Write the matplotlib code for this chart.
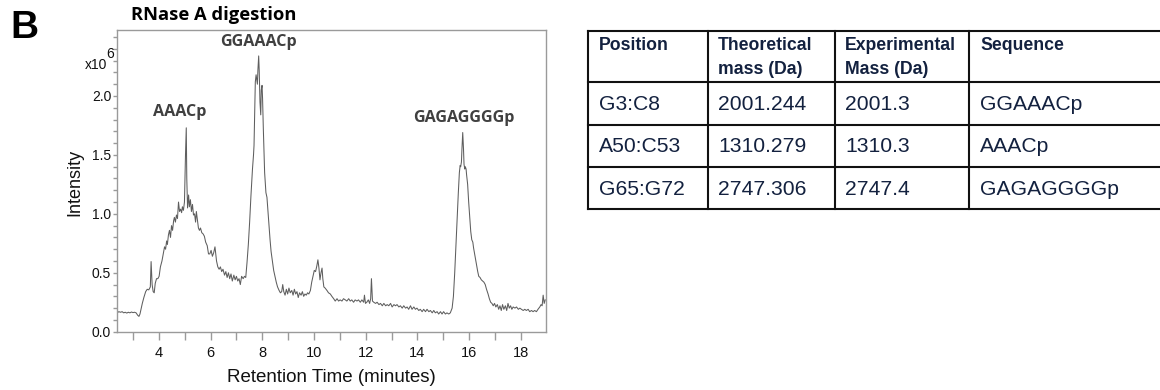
import matplotlib
matplotlib.use("Agg")
import matplotlib.pyplot as plt
from matplotlib.lines import Line2D
from matplotlib.ticker import MultipleLocator

# ---------------- data ----------------
time_min = [
    2.39, 2.45, 2.52, 2.58, 2.64, 2.70, 2.76, 2.82, 2.88, 2.94, 3.00, 3.06, 3.12, 3.18, 3.23, 3.27,
    3.36, 3.42, 3.49, 3.55, 3.61, 3.67, 3.70, 3.74, 3.78, 3.82, 3.86, 3.91, 3.96, 4.01, 4.06, 4.12,
    4.17, 4.22, 4.26, 4.30, 4.33, 4.37, 4.41, 4.45, 4.49, 4.53, 4.57, 4.60, 4.64, 4.68, 4.72, 4.76,
    4.80, 4.84, 4.88, 4.91, 4.95, 4.99, 5.03, 5.06, 5.08, 5.11, 5.15, 5.18, 5.22, 5.26, 5.30, 5.34,
    5.38, 5.42, 5.45, 5.49, 5.53, 5.57, 5.61, 5.66, 5.71, 5.76, 5.81, 5.87, 5.92, 5.97, 6.02, 6.07,
    6.12, 6.17, 6.23, 6.28, 6.33, 6.38, 6.43, 6.48, 6.54, 6.59, 6.64, 6.69, 6.74, 6.79, 6.84, 6.90,
    6.95, 7.00, 7.05, 7.10, 7.15, 7.20, 7.26, 7.31, 7.36,
    7.41, 7.46, 7.51, 7.56, 7.62, 7.66, 7.68, 7.71, 7.73, 7.76, 7.78, 7.81, 7.83, 7.86, 7.88, 7.91,
    7.94, 7.96, 7.99, 8.01, 8.04, 8.07, 8.09, 8.12, 8.14, 8.18, 8.22, 8.26, 8.30, 8.34, 8.39, 8.44,
    8.49, 8.54, 8.59, 8.65, 8.70, 8.75, 8.79, 8.83, 8.88, 8.93, 8.98, 9.03, 9.08, 9.14, 9.19, 9.24,
    9.29, 9.34, 9.39, 9.44, 9.50, 9.55, 9.60, 9.65, 9.70, 9.75, 9.80, 9.86, 9.91, 9.96, 10.01, 10.06,
    10.11, 10.15, 10.19, 10.23, 10.27, 10.31, 10.34, 10.38, 10.43, 10.50, 10.56, 10.63, 10.69, 10.76,
    10.82, 10.89, 10.95, 11.01, 11.08, 11.14, 11.21, 11.27, 11.34, 11.40, 11.46, 11.53, 11.59, 11.66,
    11.72, 11.79, 11.85, 11.92, 11.95, 11.99, 12.04, 12.10, 12.15, 12.19, 12.22, 12.26, 12.31, 12.38,
    12.44, 12.51, 12.57, 12.64, 12.70, 12.77, 12.83, 12.89, 12.96, 13.02, 13.09, 13.15, 13.21, 13.28,
    13.34, 13.41, 13.47, 13.54, 13.60, 13.66, 13.73, 13.79, 13.86, 13.92, 13.98, 14.05, 14.11, 14.18,
    14.24, 14.31, 14.37, 14.44, 14.50, 14.57, 14.63, 14.69, 14.76, 14.82, 14.89, 14.95, 15.01, 15.08,
    15.14, 15.21, 15.27,
    15.34, 15.39, 15.44, 15.49, 15.54, 15.58, 15.62, 15.65, 15.67, 15.70, 15.72, 15.75, 15.78, 15.80,
    15.83, 15.85, 15.88, 15.90, 15.94, 15.98, 16.02, 16.06, 16.10, 16.14, 16.17, 16.21, 16.25, 16.29,
    16.33, 16.37, 16.42, 16.47, 16.52, 16.57, 16.62, 16.67, 16.73, 16.78, 16.83, 16.88, 16.93, 16.98,
    17.03, 17.09, 17.14, 17.19, 17.24, 17.29, 17.34, 17.40, 17.45, 17.50, 17.55, 17.60, 17.65, 17.70,
    17.77, 17.83, 17.90, 17.96, 18.02, 18.09, 18.15, 18.21, 18.28, 18.34, 18.41, 18.47, 18.53, 18.60,
    18.66, 18.73, 18.78, 18.82, 18.86, 18.90, 18.94,
]
intensity_e6 = [
    0.16, 0.17, 0.165, 0.17, 0.16, 0.165, 0.158, 0.165, 0.16, 0.167, 0.162, 0.165, 0.16, 0.14, 0.13, 0.15,
    0.24, 0.29, 0.34, 0.36, 0.355, 0.38, 0.595, 0.40, 0.34, 0.33, 0.41, 0.45, 0.45, 0.47, 0.55, 0.60,
    0.66, 0.72, 0.70, 0.77, 0.74, 0.82, 0.86, 0.80, 0.90, 0.86, 0.94, 0.97, 0.93, 0.99, 0.96, 1.10,
    1.02, 1.04, 1.01, 1.06, 1.03, 1.10, 1.50, 1.73, 1.30, 1.05, 1.16, 1.06, 1.12, 1.02, 1.08, 0.99,
    1.00, 0.93, 1.02, 0.95, 0.88, 0.86, 0.88, 0.84, 0.83, 0.81, 0.76, 0.73, 0.66, 0.66, 0.69, 0.64,
    0.67, 0.72, 0.60, 0.55, 0.53, 0.55, 0.51, 0.53, 0.48, 0.51, 0.46, 0.50, 0.45, 0.49, 0.43, 0.48,
    0.44, 0.47, 0.43, 0.45, 0.40, 0.47, 0.45, 0.47, 0.46,
    0.59, 0.74, 0.93, 1.15, 1.38, 1.50, 1.58, 1.90, 2.12, 2.18, 2.15, 2.10, 2.22, 2.34, 2.22, 1.95,
    1.84, 2.05, 2.09, 1.98, 1.72, 1.50, 1.35, 1.24, 1.18, 1.14, 1.02, 0.90, 0.78, 0.68, 0.60, 0.52,
    0.47, 0.42, 0.38, 0.35, 0.33, 0.34, 0.40, 0.34, 0.31, 0.36, 0.32, 0.37, 0.33, 0.35, 0.31, 0.36,
    0.32, 0.34, 0.29, 0.33, 0.31, 0.34, 0.30, 0.32, 0.31, 0.33, 0.32, 0.35, 0.42, 0.47, 0.52, 0.51,
    0.56, 0.61, 0.54, 0.44, 0.50, 0.54, 0.45, 0.38, 0.37, 0.35, 0.33, 0.32, 0.30, 0.28,
    0.26, 0.28, 0.26, 0.27, 0.26, 0.28, 0.27, 0.26, 0.28, 0.26, 0.27, 0.25, 0.27, 0.26,
    0.27, 0.25, 0.27, 0.25, 0.31, 0.24, 0.25, 0.27, 0.24, 0.28, 0.45, 0.26, 0.25, 0.24,
    0.25, 0.23, 0.24, 0.22, 0.24, 0.22, 0.23, 0.22, 0.24, 0.21, 0.23, 0.22, 0.23, 0.21,
    0.22, 0.20, 0.22, 0.20, 0.21, 0.19, 0.22, 0.19, 0.21, 0.19, 0.20, 0.18, 0.19, 0.17,
    0.19, 0.17, 0.19, 0.17, 0.18, 0.16, 0.18, 0.16, 0.17, 0.15, 0.17, 0.15, 0.17, 0.15,
    0.16, 0.15, 0.16,
    0.20, 0.30, 0.50, 0.75, 0.98, 1.18, 1.35, 1.41, 1.40, 1.44, 1.55, 1.69, 1.55, 1.42,
    1.38, 1.40, 1.38, 1.33, 1.25, 1.10, 0.98, 0.85, 0.78, 0.76, 0.71, 0.66, 0.61, 0.56,
    0.51, 0.47, 0.46, 0.44, 0.43, 0.42, 0.40, 0.36, 0.32, 0.28, 0.25, 0.24, 0.22, 0.24,
    0.21, 0.23, 0.19, 0.22, 0.18, 0.23, 0.19, 0.22, 0.18, 0.24, 0.20, 0.22, 0.19, 0.21,
    0.20, 0.21, 0.19, 0.20, 0.19, 0.18, 0.19, 0.18, 0.19, 0.17, 0.18, 0.17, 0.18, 0.17,
    0.19, 0.21, 0.23, 0.22, 0.31, 0.24, 0.27,
]

peak_labels = ["AAACp", "GGAAACp", "GAGAGGGGp"]
peak_label_time = [4.80, 7.85, 15.78]
peak_label_int = [1.86, 2.46, 1.81]

x_ticks = [4, 6, 8, 10, 12, 14, 16, 18]
y_ticks = [0.0, 0.5, 1.0, 1.5, 2.0]

table_header_line1 = ["Position", "Theoretical", "Experimental", "Sequence"]
table_header_line2 = ["", "mass (Da)", "Mass (Da)", ""]
positions = ["G3:C8", "A50:C53", "G65:G72"]
theoretical = ["2001.244", "1310.279", "2747.306"]
experimental = ["2001.3", "1310.3", "2747.4"]
sequences = ["GGAAACp", "AAACp", "GAGAGGGGp"]

# ---------------- figure ----------------
W, H = 1160, 390
fig = plt.figure(figsize=(W / 100, H / 100), dpi=100)
fig.patch.set_facecolor("white")


def fx(px):
    return px / W


def fy(py):
    return 1 - py / H


SANS = ["Liberation Sans", "DejaVu Sans"]
CAL = ["Open Sans", "Lato", "DejaVu Sans"]

ax_l, ax_r, ax_t, ax_b = 116.7, 546.0, 30.0, 331.7
ax = fig.add_axes([fx(ax_l), fy(ax_b), (ax_r - ax_l) / W, (ax_b - ax_t) / H])
ax.plot(time_min, intensity_e6, color="#5e5e5e", lw=0.75)
ax.set_xlim(2.37, 18.97)
ax.set_ylim(0, 2.56)

spine_c = "#9a9a9a"
for s in ax.spines.values():
    s.set_color(spine_c)
    s.set_linewidth(1.0)

ax.set_xticks(x_ticks)
ax.xaxis.set_minor_locator(MultipleLocator(1))
ax.set_yticks(y_ticks)
ax.yaxis.set_minor_locator(MultipleLocator(0.1))
ax.set_yticklabels([f"{v:.1f}" for v in y_ticks])
ax.tick_params(axis="x", which="both", direction="out", length=6, width=1, color=spine_c,
               labelsize=10.5, pad=4, labelcolor="#111111")
ax.tick_params(axis="y", which="both", direction="out", length=3, width=1, color=spine_c,
               labelsize=10, pad=1, labelcolor="#111111")
for lab in ax.get_xticklabels() + ax.get_yticklabels():
    lab.set_family(SANS)

ax.set_xlabel("Retention Time (minutes)", fontsize=13.5, family=SANS, color="#111111", labelpad=7)
fig.text(fx(75), fy(182), "Intensity", rotation=90, fontsize=13, family=SANS,
         color="#111111", ha="center", va="center")

# x10^6 multiplier
fig.text(fx(107), fy(69), "x10", fontsize=10, family=SANS, ha="right", va="baseline", color="#111111")
fig.text(fx(106.5), fy(54), "6", fontsize=10, family=SANS, ha="left", va="center", color="#111111")

for lbl, tx, ty in zip(peak_labels, peak_label_time, peak_label_int):
    ax.text(tx, ty, lbl, fontsize=11.6, fontweight="bold", family=CAL, color="#404040",
            ha="center", va="center")

fig.text(fx(214), fy(15.5), "RNase A digestion", fontsize=13.2, fontweight="bold", family=CAL,
         color="black", ha="center", va="center")
fig.text(fx(10), fy(28), "B", fontsize=28, fontweight="bold", family=SANS, color="black",
         ha="left", va="center")

# ---------------- table ----------------
navy = "#13213f"
tab_left, tab_right = 588, 1165
col_lines = [588, 707.5, 835, 969]
row_lines = [31, 81.5, 124.5, 167, 209]
for yy in row_lines:
    fig.add_artist(Line2D([fx(tab_left), fx(tab_right)], [fy(yy), fy(yy)], color="#111111", lw=1.5))
for xx in col_lines:
    fig.add_artist(Line2D([fx(xx), fx(xx)], [fy(row_lines[0]), fy(row_lines[-1])], color="#111111", lw=1.5))

col_text_x = [598.5, 718, 845, 980]
for cx, h1, h2 in zip(col_text_x, table_header_line1, table_header_line2):
    fig.text(fx(cx), fy(45), h1, fontsize=12.7, fontweight="bold", family=SANS, color=navy,
             ha="left", va="center")
    if h2:
        fig.text(fx(cx), fy(70), h2, fontsize=12.7, fontweight="bold", family=SANS, color=navy,
                 ha="left", va="center")

row_text_y = [104.5, 147, 189.5]
for ry, p, th, ex, sq in zip(row_text_y, positions, theoretical, experimental, sequences):
    for cx, val in zip(col_text_x, [p, th, ex, sq]):
        fig.text(fx(cx), fy(ry), val, fontsize=15.2, family=SANS, color=navy, ha="left", va="center")

fig.savefig("out.png", dpi=100)
